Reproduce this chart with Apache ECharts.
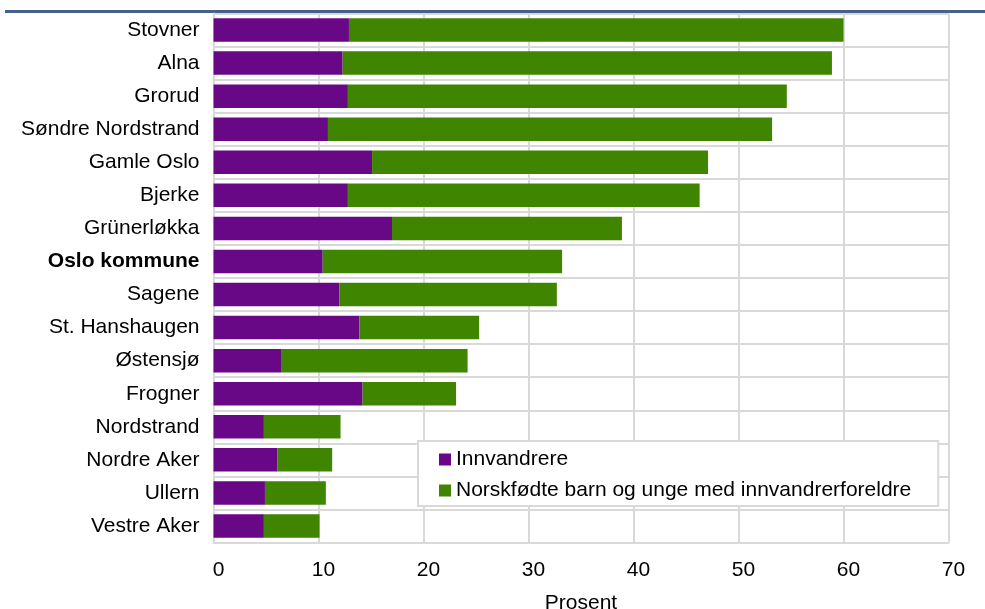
<!DOCTYPE html>
<html>
<head>
<meta charset="utf-8">
<script src="https://cdn.jsdelivr.net/npm/echarts@6/dist/echarts.min.js"></script>
<style>
html,body{margin:0;padding:0;background:#fff;}
#chart{width:985px;height:609px;}
</style>
</head>
<body>
<div id="chart"></div>
<script>
const categories = ["Stovner","Alna","Grorud","Søndre Nordstrand","Gamle Oslo","Bjerke","Grünerløkka","Oslo kommune","Sagene","St. Hanshaugen","Østensjø","Frogner","Nordstrand","Nordre Aker","Ullern","Vestre Aker"];
const innvandrere = [12.9,12.3,12.8,10.9,15.1,12.8,17.0,10.4,12.0,13.9,6.5,14.2,4.8,6.1,4.9,4.8];
const norskfodte = [47.1,46.6,41.8,42.3,32.0,33.5,21.9,22.8,20.7,11.4,17.7,8.9,7.3,5.2,5.8,5.3];
const seriesNames = ["Innvandrere","Norskfødte barn og unge med innvandrerforeldre"];
const xTicks = [0,10,20,30,40,50,60,70];
const axisTitle = "Prosent";

const FONT = '"Liberation Sans", Arial, sans-serif';
const chart = echarts.init(document.getElementById('chart'), null, {renderer:'canvas'});
const gridColor = '#d9d9d9';
chart.setOption({
  animation:false,
  backgroundColor:'#fff',
  textStyle:{fontFamily:FONT},
  graphic:[{type:'rect', shape:{x:5,y:10,width:980,height:3}, style:{fill:'#44618c'}}],
  grid:{left:213.5, right:36.5, top:13.5, bottom:66.5, containLabel:false, outerBoundsMode:'none'},
  legend:{
    orient:'vertical', left:418, top:441,
    padding:[8,27,5,21], itemGap:10,
    itemWidth:12, itemHeight:12, icon:'rect',
    backgroundColor:'#fff', borderColor:gridColor, borderWidth:2,
    textStyle:{fontSize:21, color:'#000', fontFamily:FONT},
    data:seriesNames
  },
  xAxis:{
    type:'value', min:xTicks[0], max:xTicks[xTicks.length-1], interval:10,
    name:axisTitle, nameLocation:'middle', nameGap:50,
    nameTextStyle:{fontSize:21, color:'#000', fontFamily:FONT},
    axisLine:{show:true, lineStyle:{color:gridColor, width:2}},
    axisTick:{show:false},
    axisLabel:{fontSize:21, color:'#000', margin:17, padding:[0,0,0,10], fontFamily:FONT},
    splitLine:{show:true, lineStyle:{color:gridColor, width:2}}
  },
  yAxis:{
    type:'category', data:categories, inverse:true,
    axisLine:{show:true, lineStyle:{color:gridColor, width:2}},
    axisTick:{show:false},
    axisLabel:{fontSize:21, color:'#000', margin:14, fontFamily:FONT,
      formatter:function(v){ return v === 'Oslo kommune' ? '{b|' + v + '}' : v; },
      rich:{b:{fontWeight:'bold', fontSize:21, color:'#000', fontFamily:FONT}}
    },
    splitLine:{show:true, lineStyle:{color:gridColor, width:2}}
  },
  series:[
    {name:seriesNames[0], type:'bar', stack:'t', data:innvandrere, barCategoryGap:'29%', itemStyle:{color:'#680887'}},
    {name:seriesNames[1], type:'bar', stack:'t', data:norskfodte, barCategoryGap:'29%', itemStyle:{color:'#408500'}}
  ]
});
</script>
</body>
</html>
